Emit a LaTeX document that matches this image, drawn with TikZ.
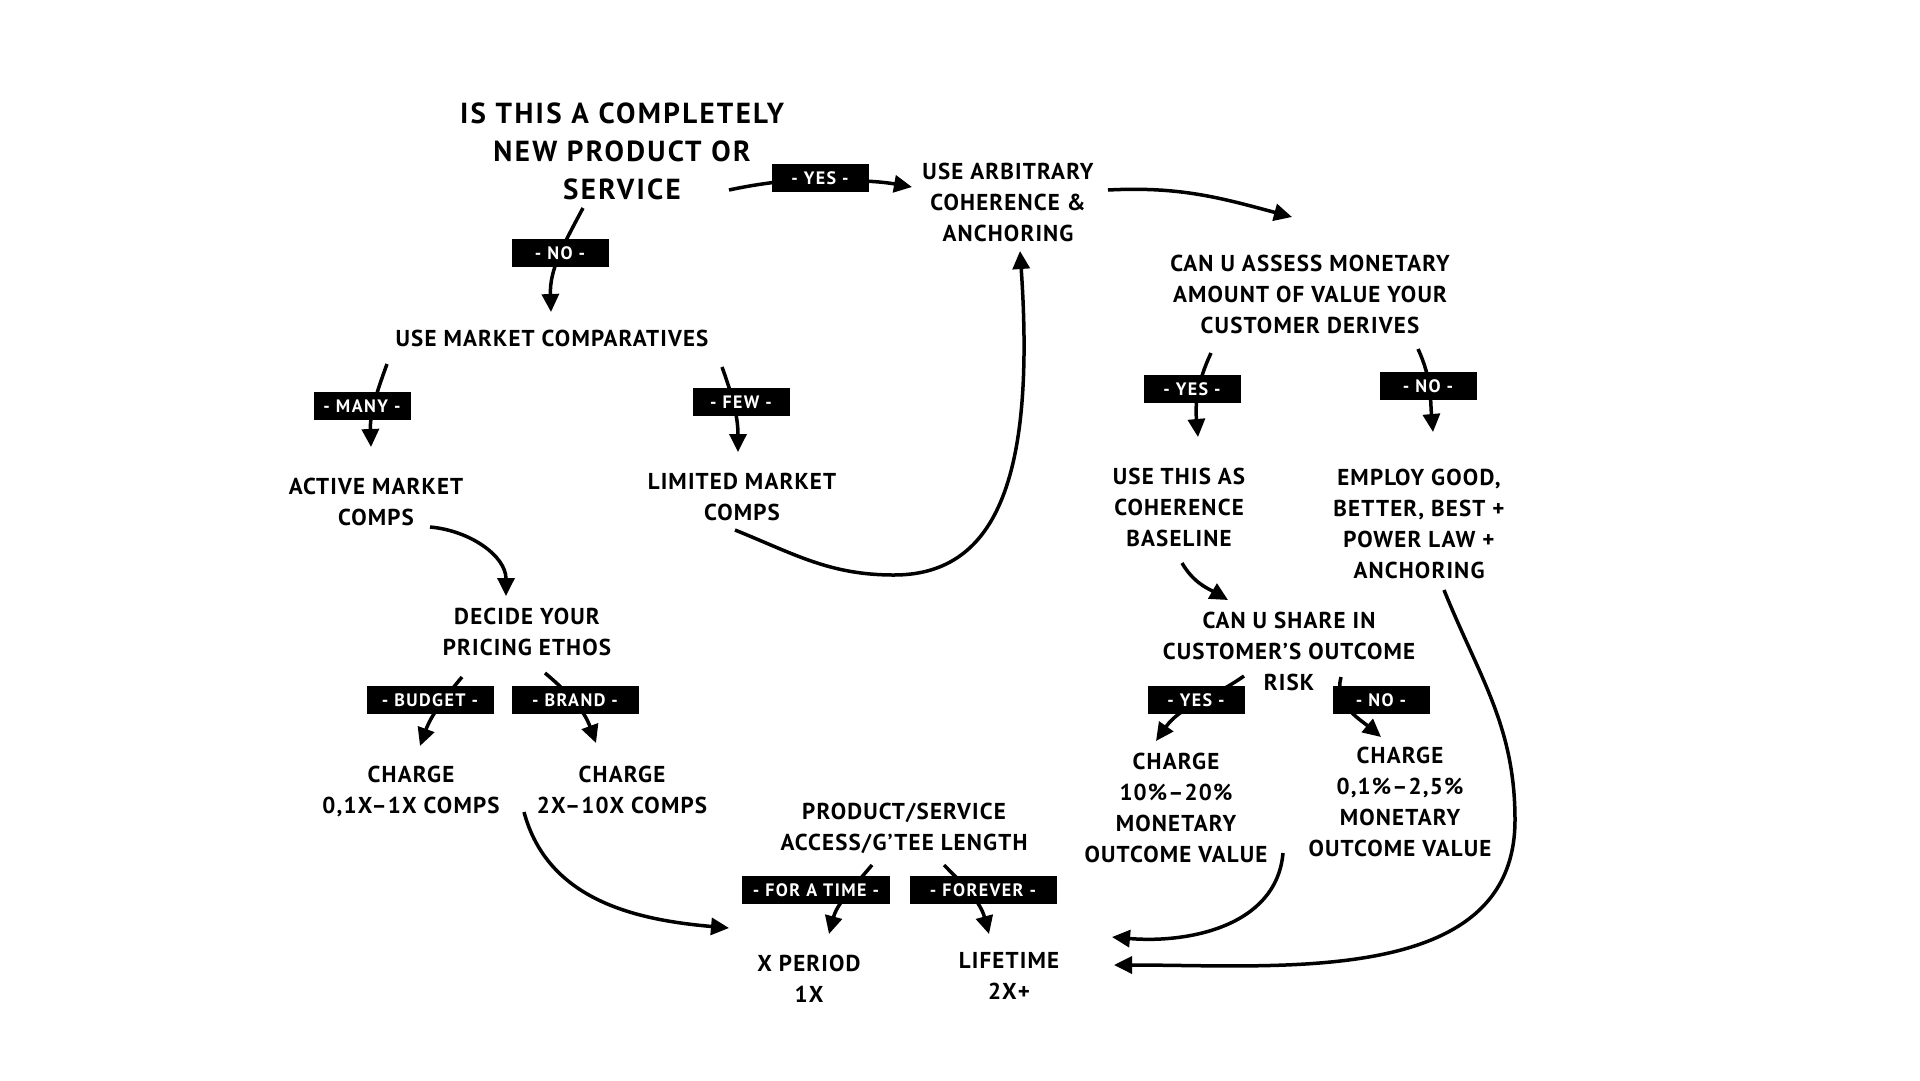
\documentclass[tikz,border=0pt]{standalone}
\usepackage{fontspec}
\setmainfont{PT Sans}
\usetikzlibrary{arrows.meta,calc}
\begin{document}
\begin{tikzpicture}[x=1pt,y=1pt,
  txt/.style={align=center,inner sep=0pt,font=\addfontfeature{LetterSpace=5}\bfseries\fontsize{23}{31}\selectfont},
  big/.style={align=center,inner sep=0pt,font=\addfontfeature{LetterSpace=8}\bfseries\fontsize{29}{38}\selectfont},
  lbl/.style={fill=black,text=white,inner sep=0pt,minimum height=28pt,minimum width=97pt,font=\addfontfeature{LetterSpace=8}\bfseries\fontsize{18}{18}\selectfont},
  arr/.style={line width=3.5pt,-{Triangle[length=18pt,width=17pt]}},
]
\fill[white] (0,0) rectangle (1920,-1080);
\useasboundingbox (0,0) rectangle (1920,-1080);

% text nodes
\node[big] (q1) at (622,-151) {IS THIS A COMPLETELY\\NEW PRODUCT OR\\SERVICE};
\node[txt] (arb) at (1008,-202) {USE ARBITRARY\\COHERENCE \&\\ANCHORING};
\node[txt] (mc) at (552,-338) {USE MARKET COMPARATIVES};
\node[txt] (amc) at (376,-502) {ACTIVE MARKET\\COMPS};
\node[txt] (lmc) at (742,-497) {LIMITED MARKET\\COMPS};
\node[txt] (dec) at (527,-632) {DECIDE YOUR\\PRICING ETHOS};
\node[txt] (c1) at (411,-791) {CHARGE\\0,1X–1X COMPS};
\node[txt] (c2) at (622,-790) {CHARGE\\2X–10X COMPS};
\node[txt] (psl) at (904,-828) {PRODUCT/SERVICE\\ACCESS/G’TEE LENGTH};
\node[txt] (xp) at (809,-979) {X PERIOD\\1X};
\node[txt] (lt) at (1009,-976) {LIFETIME\\2X+};
\node[txt] (cv) at (1310,-294) {CAN U ASSESS MONETARY\\AMOUNT OF VALUE YOUR\\CUSTOMER DERIVES};
\node[txt] (ut) at (1179,-507) {USE THIS AS\\COHERENCE\\BASELINE};
\node[txt] (eg) at (1419,-524) {EMPLOY GOOD,\\BETTER, BEST +\\POWER LAW +\\ANCHORING};
\node[txt] (cs) at (1289,-651) {CAN U SHARE IN\\CUSTOMER’S OUTCOME\\RISK};
\node[txt] (c3) at (1176,-808) {CHARGE\\10\%–20\%\\MONETARY\\OUTCOME VALUE};
\node[txt] (c4) at (1400,-802) {CHARGE\\0,1\%–2,5\%\\MONETARY\\OUTCOME VALUE};

% connectors
\draw[arr] ($(q1)+(107,-39)$) to[out=12,in=185] (820,-178) to[out=-5,in=170] ($(arb)+(-96,15)$);
\draw[arr] ($(q1)+(-39,-57)$) to[out=-118,in=92] ($(mc)+(-1,26)$);
\draw[arr] ($(mc)+(-165,-26)$) to[out=-110,in=92] ($(amc)+(-5,55)$);
\draw[arr] ($(mc)+(170,-29)$) to[out=-70,in=90] ($(lmc)+(-4,45)$);
\draw[arr] ($(amc)+(54,-25)$) to[out=-5,in=90] ($(dec)+(-21,36)$);
\draw[arr] ($(lmc)+(-7,-33)$) to[out=-22,in=180] (894,-575) .. controls (1000,-575) and (1035,-470) .. ($(arb)+(12,-49)$);
\draw[arr] ($(dec)+(-65,-45)$) to[out=-130,in=70] ($(c1)+(9,45)$);
\draw[arr] ($(dec)+(18,-41)$) to[out=-40,in=110] ($(c2)+(-26,47)$);
\draw[arr] ($(c1)+(113,-21)$) to[out=-75,in=175] ($(xp)+(-80,51)$);
\draw[arr] ($(psl)+(-32,-37)$) to[out=-130,in=75] ($(xp)+(20,45)$);
\draw[arr] ($(psl)+(40,-37)$) to[out=-45,in=105] ($(lt)+(-20,42)$);
\draw[arr] ($(arb)+(100,12)$) to[out=3,in=165] ($(cv)+(-18,77)$);
\draw[arr] ($(cv)+(-99,-59)$) to[out=-115,in=95] ($(ut)+(19,70)$);
\draw[arr] ($(cv)+(108,-55)$) to[out=-65,in=95] ($(eg)+(14,92)$);
\draw[arr] ($(ut)+(3,-56)$) to[out=-60,in=150] ($(cs)+(-61,51)$);
\draw[arr] ($(cs)+(-45,-25)$) to[out=-145,in=55] ($(c3)+(-20,67)$);
\draw[arr] ($(cs)+(52,-26)$) to[out=-105,in=140] ($(c4)+(-19,65)$);
\draw[arr] ($(c3)+(107,-45)$) to[out=-95,in=-5] ($(lt)+(103,39)$);
\draw[arr] ($(eg)+(25,-66)$) to[out=-68,in=90] (1515,-820) to[out=-90,in=0] ($(lt)+(105,11)$);

% labels
\node[lbl] (yes1) at (820,-178) {- YES -};
\node[lbl] (no1) at (560,-253) {- NO -};
\node[lbl] (many) at (362,-406) {- MANY -};
\node[lbl] (few) at (741,-402) {- FEW -};
\node[lbl,minimum width=127pt] (budget) at (430,-700) {- BUDGET -};
\node[lbl,minimum width=127pt] (brand) at (575,-700) {- BRAND -};
\node[lbl,minimum width=148pt] (fat) at (816,-890) {- FOR A TIME -};
\node[lbl,minimum width=147pt] (forever) at (983,-890) {- FOREVER -};
\node[lbl] (yes2) at (1192,-389) {- YES -};
\node[lbl] (no2) at (1428,-386) {- NO -};
\node[lbl] (yes3) at (1196,-700) {- YES -};
\node[lbl] (no3) at (1381,-700) {- NO -};
\end{tikzpicture}
\end{document}
